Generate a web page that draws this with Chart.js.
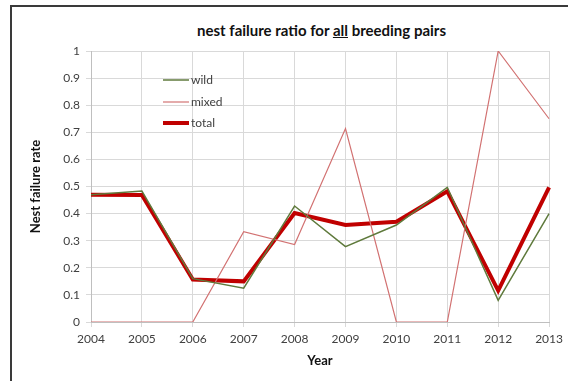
<!DOCTYPE html>
<html>
<head>
<meta charset="utf-8">
<script src="https://cdn.jsdelivr.net/npm/chart.js@4/dist/chart.umd.min.js"></script>
<style>
  html, body { margin: 0; padding: 0; background: #fff; }
  #wrap { position: relative; width: 568px; height: 381px; overflow: hidden; }
  #frame { position: absolute; left: 10px; top: 5px; width: 700px; height: 500px;
           border-left: 2px solid #3a3a3a; border-top: 2px solid #3a3a3a; }
  #title { position: absolute; left: 0; width: 643px; top: 21px; text-align: center;
           font: bold 15px Lato, "Open Sans", sans-serif; color: #111; }
  canvas { position: absolute; left: 0; top: 0; }
</style>
</head>
<body>
<div id="wrap">
  <div id="frame"></div>
  <div id="title">nest failure ratio for <u>all</u> breeding pairs</div>
  <canvas id="c" width="568" height="381"></canvas>
</div>
<script>
// values
const years = ['2004', '2005', '2006', '2007', '2008', '2009', '2010', '2011', '2012', '2013'];
const wild  = [0.47, 0.483, 0.16, 0.125, 0.428, 0.278, 0.358, 0.497, 0.08, 0.40];
const mixed = [0, 0, 0, 0.333, 0.286, 0.714, 0, 0, 1, 0.75];
const total = [0.47, 0.469, 0.157, 0.15, 0.402, 0.358, 0.37, 0.482, 0.116, 0.497];
const yTicks = [0, 0.1, 0.2, 0.3, 0.4, 0.5, 0.6, 0.7, 0.8, 0.9, 1];

const FONT = 'Lato, "Open Sans", sans-serif';

// legend drawn inside the plot area, like the spreadsheet original
const insideLegend = {
  id: 'insideLegend',
  afterDraw(chart) {
    const ctx = chart.ctx;
    const x0 = 163, x1 = 189;
    const rows = [80, 102, 123];
    ctx.save();
    ctx.font = '12px ' + FONT;
    ctx.textBaseline = 'middle';
    chart.data.datasets.forEach((ds, i) => {
      const y = rows[i];
      ctx.strokeStyle = ds.borderColor;
      ctx.lineWidth = ds.borderWidth;
      ctx.beginPath(); ctx.moveTo(x0, y); ctx.lineTo(x1, y); ctx.stroke();
      ctx.fillStyle = '#404040';
      ctx.fillText(ds.label, x1 + 2, y);
    });
    ctx.restore();
  }
};

new Chart(document.getElementById('c'), {
  type: 'line',
  data: {
    labels: years,
    datasets: [
      { label: 'wild', data: wild, borderColor: '#5f7a3c', borderWidth: 1.5 },
      { label: 'mixed', data: mixed, borderColor: '#d27272', borderWidth: 1.2 },
      { label: 'total', data: total, borderColor: '#c00000', borderWidth: 4 }
    ]
  },
  options: {
    responsive: false,
    animation: false,
    layout: { padding: { left: 0, right: 14, top: 51, bottom: 12 } },
    elements: { point: { radius: 0 }, line: { tension: 0 } },
    plugins: { legend: { display: false }, title: { display: false }, tooltip: { enabled: false } },
    scales: {
      x: {
        offset: false,
        grid: { color: '#d9d9d9', tickLength: 5 },
        border: { color: '#bfbfbf' },
        ticks: { color: '#404040', font: { family: FONT, size: 12 }, padding: 5, maxRotation: 0 },
        title: { display: true, text: 'Year', color: '#111', font: { family: FONT, size: 13, weight: 'bold' }, padding: 0 },
        afterFit(s) { s.height = 47; }
      },
      y: {
        min: 0, max: 1,
        grid: { color: '#d9d9d9', tickLength: 5 },
        border: { color: '#bfbfbf' },
        afterBuildTicks(s) { s.ticks = yTicks.map(v => ({ value: v })); },
        ticks: { color: '#404040', font: { family: FONT, size: 12 }, padding: 6,
                 callback: v => String(Math.round(v * 10) / 10) },
        title: { display: true, text: 'Nest failure rate', color: '#111', font: { family: FONT, size: 13, weight: 'bold' },
                 padding: { top: 28, bottom: 0 } },
        afterFit(s) { s.width = 91; }
      }
    }
  },
  plugins: [insideLegend]
});
</script>
</body>
</html>
